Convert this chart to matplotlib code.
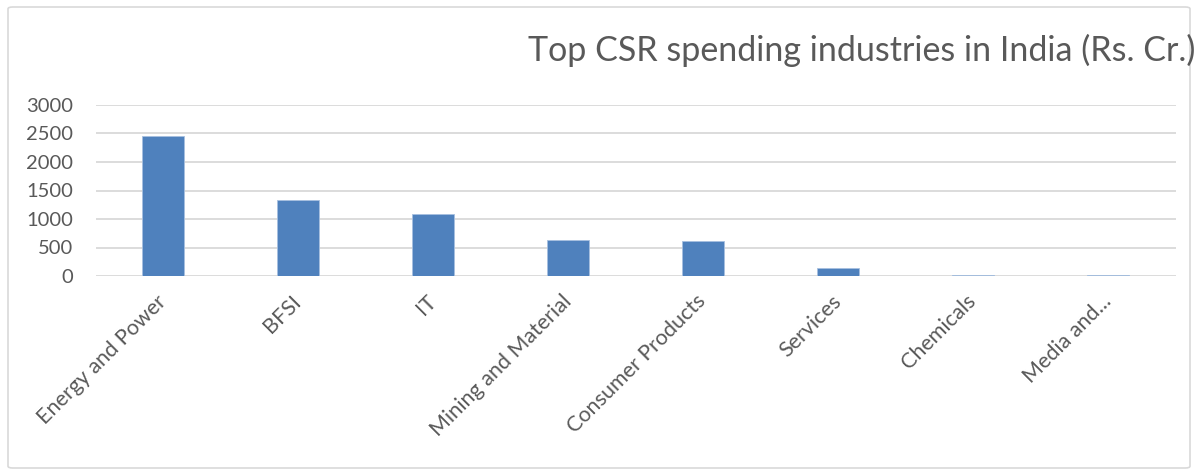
import matplotlib.pyplot as plt
from matplotlib.patches import FancyBboxPatch

# Data
industries = ['Energy and Power', 'BFSI', 'IT', 'Mining and Material',
              'Consumer Products', 'Services', 'Chemicals', 'Media and...']
spending = [2450, 1340, 1080, 635, 620, 145, 20, 20]
yticks = [0, 500, 1000, 1500, 2000, 2500, 3000]

plt.rcParams['font.family'] = ['Lato', 'DejaVu Sans']

fig = plt.figure(figsize=(11.98, 4.7), dpi=100)
ax = fig.add_axes([95.5 / 1198, 1 - 276 / 470, 1080 / 1198, (276 - 105) / 470])

ax.bar(range(len(industries)), spending, width=0.31, color='#4f81bd',
       edgecolor='#a7c0e0', linewidth=0.6, zorder=3)

ax.set_xlim(-0.5, len(industries) - 0.5)
ax.set_ylim(0, 3000)
ax.set_yticks(yticks)
ax.set_yticklabels([str(v) for v in yticks], fontsize=14.5, color='#595959')
ax.yaxis.grid(True, color='#d9d9d9', linewidth=1.3, zorder=0)
ax.tick_params(axis='y', length=0, pad=16)
ax.tick_params(axis='x', length=0, pad=16)
ax.set_xticks(range(len(industries)))
ax.set_xticklabels(industries, rotation=45, ha='right', va='center',
                   rotation_mode='anchor', fontsize=15.5, color='#595959')
for s in ax.spines.values():
    s.set_visible(False)

fig.text(0.998, 1 - 50 / 470, 'Top CSR spending industries in India (Rs. Cr.)',
         ha='right', va='center', fontsize=24.5, color='#595959')

# chart border
fig.patches.append(FancyBboxPatch((8 / 1198, 2 / 470), 1182 / 1198, 461 / 470,
                                  boxstyle='round,pad=0,rounding_size=0.004',
                                  transform=fig.transFigure, fill=False,
                                  edgecolor='#d9d9d9', linewidth=1.2))

fig.savefig('out.png', dpi=100)
